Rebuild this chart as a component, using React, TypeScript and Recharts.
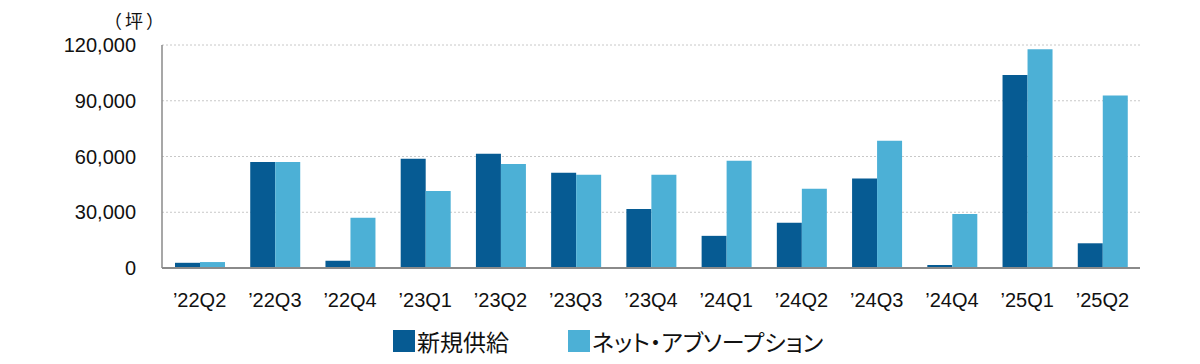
import React from "react";
import { BarChart, Bar, XAxis, YAxis, CartesianGrid } from "recharts";

const categories = ["’22Q2", "’22Q3", "’22Q4", "’23Q1", "’23Q2", "’23Q3", "’23Q4", "’24Q1", "’24Q2", "’24Q3", "’24Q4", "’25Q1", "’25Q2"];
const newSupply = [2800, 57000, 3900, 58800, 61500, 51200, 31800, 17300, 24400, 48200, 1600, 103900, 13300];
const netAbsorption = [3200, 57000, 27100, 41500, 56000, 50200, 50200, 57700, 42600, 68500, 29000, 117700, 92800];
const yTicks = [0, 30000, 60000, 90000, 120000];
const seriesNames = ["新規供給", "ネット・アブソープション"];
const unitLabel = "（坪）";

const COLORS = ["#065b93", "#4cb0d6"];
const FONT = "'Liberation Sans', Arial, 'Noto Sans CJK JP', sans-serif";
const CJK = "'Noto Sans CJK JP', sans-serif";

const data = categories.map((c, i) => ({ name: c, a: newSupply[i], b: netAbsorption[i] }));
const legendLefts = [393, 568];

export default function App() {
  return (
    <div style={{ position: "absolute", left: 0, top: 0, width: 1200, height: 364, background: "#fff", fontFamily: FONT }}>
      <BarChart
        width={1200}
        height={364}
        data={data}
        margin={{ top: 45, right: 60, bottom: 56, left: 0 }}
        barGap={0}
        barSize={25}
      >
        <CartesianGrid vertical={false} stroke="#c8c8c8" strokeDasharray="2 2" />
        <XAxis
          dataKey="name"
          height={40}
          tickLine={false}
          tickSize={6}
          tickMargin={19}
          axisLine={{ stroke: "#8a8a8a", strokeWidth: 2 }}
          tick={{ fill: "#111", fontSize: 20, fontFamily: FONT }}
          interval={0}
        />
        <YAxis
          width={162}
          domain={[0, 120000]}
          ticks={yTicks}
          tickLine={false}
          tickSize={6}
          tickMargin={20}
          axisLine={{ stroke: "#8a8a8a", strokeWidth: 1.5 }}
          tick={{ fill: "#111", fontSize: 20, fontFamily: FONT }}
          tickFormatter={(v: number) => v.toLocaleString("en-US")}
        />
        <Bar dataKey="a" name={seriesNames[0]} fill={COLORS[0]} isAnimationActive={false} />
        <Bar dataKey="b" name={seriesNames[1]} fill={COLORS[1]} isAnimationActive={false} />
      </BarChart>
      <div style={{ position: "absolute", left: 104, top: 9, fontSize: 18, lineHeight: "23px", letterSpacing: 3, color: "#111", fontFamily: CJK }}>{unitLabel}</div>
      {seriesNames.map((n, i) => (
        <div key={n} style={{ position: "absolute", left: legendLefts[i], top: 330, height: 22, display: "flex", alignItems: "center", gap: 2 }}>
          <div style={{ width: 22, height: 22, background: COLORS[i] }} />
          <span style={{ fontSize: 23, color: "#111", fontFamily: CJK, lineHeight: "22px", fontFeatureSettings: '"palt"' }}>{n}</span>
        </div>
      ))}
    </div>
  );
}
